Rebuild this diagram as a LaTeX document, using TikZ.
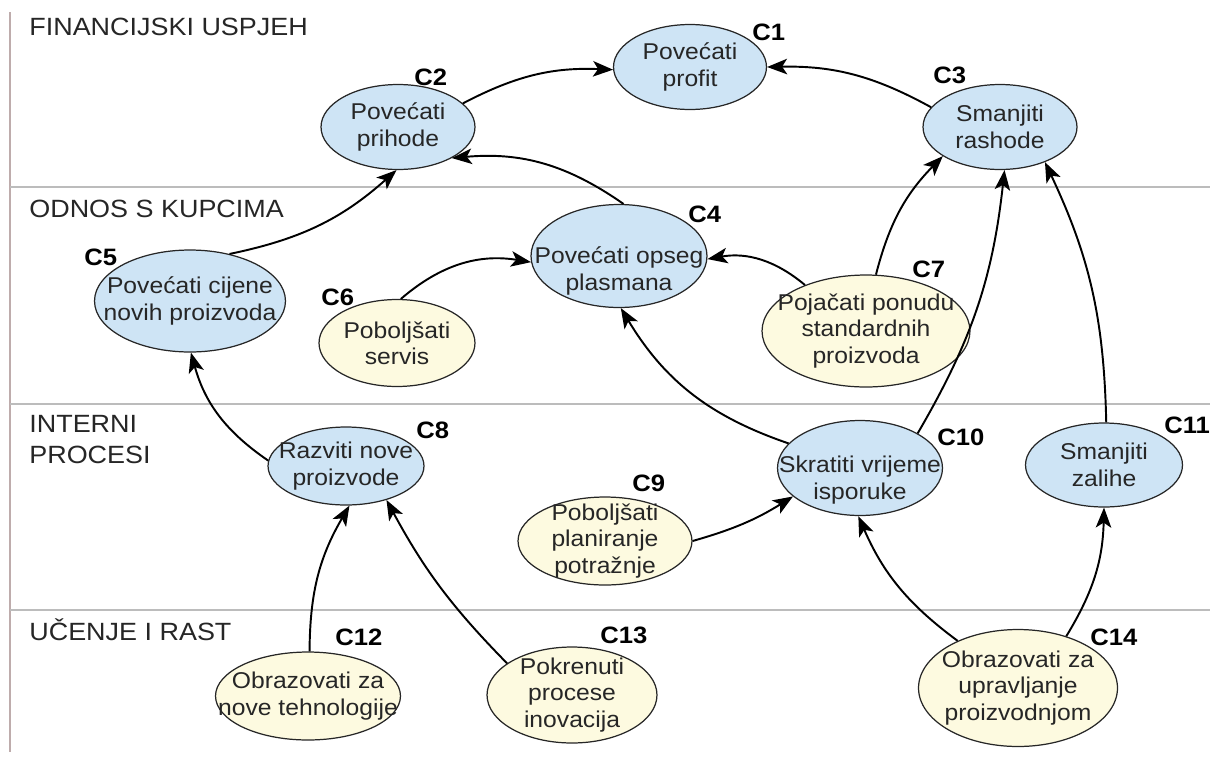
\documentclass[tikz,border=0pt]{standalone}
\usepackage{fontspec}
\setmainfont[FakeStretch=1.08]{Liberation Sans}
\usetikzlibrary{arrows.meta,shapes.geometric}
\definecolor{goalblue}{RGB}{206,228,245}
\definecolor{goalcream}{RGB}{253,250,224}
\definecolor{lanegray}{RGB}{188,188,188}
\definecolor{framegray}{RGB}{190,172,172}
\definecolor{inkgray}{RGB}{38,38,38}
\tikzset{goal/.style={
    % The shape:
    ellipse,
    inner sep=0pt,
    % The border:
    line width=0.7pt,
    draw=inkgray,
    },
    goaltext/.style={
    % Font
    font=\fontsize{13}{15}\selectfont,
    align=center,
    inner sep=0pt,
    text=inkgray,
    },
    outcome/.style={
    goal,
    fill=goalblue,
    },
    driver/.style={
    goal,
    fill=goalcream,
    },
    goalid/.style={
    font=\fontsize{13.5}{15}\selectfont\bfseries,
    inner sep=0pt,
    anchor=base west,
    },
    lanename/.style={
    font=\fontsize{14.2}{17.5}\selectfont,
    text=inkgray,
    inner sep=0pt,
    align=left,
    },
    link/.style={
    -{Stealth[length=4mm,width=3.1mm,inset=1mm]},
    line width=1.1pt,
    draw=black,
    },
}

\begin{document}
\begin{tikzpicture}[x=0.02cm,y=-0.02cm]
    \useasboundingbox (0,0) rectangle (1210,758);

    % lanes
    \draw[framegray,line width=1pt] (10,12) -- (10,752);
    \draw[lanegray,line width=1pt] (10,187) -- (1210,187);
    \draw[lanegray,line width=1pt] (10,404) -- (1210,404);
    \draw[lanegray,line width=1pt] (10,610) -- (1210,610);

    \node (finlane)  [lanename,anchor=base west]  at (29,35)  {FINANCIJSKI USPJEH};
    \node (kuplane)  [lanename,anchor=base west]  at (29,217) {ODNOS S KUPCIMA};
    \node (intlane)  [lanename,anchor=north west] at (29,415) {INTERNI\\PROCESI};
    \node (uclane)   [lanename,anchor=base west]  at (29,640) {UČENJE I RAST};

    % goals
    \node (c1)  [outcome,minimum width=3.06cm,minimum height=1.70cm,
                 label={[goaltext]center:Povećati\\profit}] at (690,67) {};
    \node (c2)  [outcome,minimum width=3.08cm,minimum height=1.70cm,
                 label={[goaltext]center:Povećati\\prihode}] at (398,127) {};
    \node (c3)  [outcome,minimum width=3.08cm,minimum height=1.70cm,
                 label={[goaltext]center:Smanjiti\\rashode}] at (1000,127) {};
    \node (c4)  [outcome,minimum width=3.52cm,minimum height=2.06cm,
                 label={[goaltext,yshift=-0.3cm]center:Povećati opseg\\plasmana}] at (619,256) {};
    \node (c5)  [outcome,minimum width=3.82cm,minimum height=2.04cm,
                 label={[goaltext]center:Povećati cijene\\novih proizvoda}] at (190,301) {};
    \node (c6)  [driver,minimum width=3.12cm,minimum height=1.74cm,
                 label={[goaltext]center:Poboljšati\\servis}] at (397,343) {};
    \node (c7)  [driver,minimum width=4.16cm,minimum height=2.24cm,
                 label={[goaltext]center:Pojačati ponudu\\standardnih\\proizvoda}] at (866,331) {};
    \node (c8)  [outcome,minimum width=3.12cm,minimum height=1.56cm,
                 label={[goaltext]center:Razviti nove\\proizvode}] at (346,466) {};
    \node (c9)  [driver,minimum width=3.48cm,minimum height=1.76cm,
                 label={[goaltext]center:Poboljšati\\planiranje\\potražnje}] at (605,541) {};
    \node (c10) [outcome,minimum width=3.30cm,minimum height=1.90cm,
                 label={[goaltext,yshift=-0.24cm]center:Skratiti vrijeme\\isporuke}] at (860,468) {};
    \node (c11) [outcome,minimum width=3.14cm,minimum height=1.68cm,
                 label={[goaltext]center:Smanjiti\\zalihe}] at (1104,465) {};
    \node (c12) [driver,minimum width=3.70cm,minimum height=1.76cm,
                 label={[goaltext]center:Obrazovati za\\nove tehnologije}] at (308,696) {};
    \node (c13) [driver,minimum width=3.40cm,minimum height=1.92cm,
                 label={[goaltext]center:Pokrenuti\\procese\\inovacija}] at (572,695) {};
    \node (c14) [driver,minimum width=3.98cm,minimum height=2.34cm,
                 label={[goaltext]center:Obrazovati za\\upravljanje\\proizvodnjom}] at (1018,688) {};

    % goal ids
    \node (id1)  [goalid] at (752,40)  {C1};
    \node (id2)  [goalid] at (414,85)  {C2};
    \node (id3)  [goalid] at (933,83)  {C3};
    \node (id4)  [goalid] at (688,222) {C4};
    \node (id5)  [goalid] at (84,265)  {C5};
    \node (id6)  [goalid] at (321,305) {C6};
    \node (id7)  [goalid] at (912,277) {C7};
    \node (id8)  [goalid] at (416,438) {C8};
    \node (id9)  [goalid] at (632,491) {C9};
    \node (id10) [goalid] at (937,445) {C10};
    \node (id11) [goalid] at (1164,433) {C11};
    \node (id12) [goalid] at (335,645) {C12};
    \node (id13) [goalid] at (600,643) {C13};
    \node (id14) [goalid] at (1090,645) {C14};

    % cause and effect
    \path (c2.20)   edge[link,bend left=15]  (c1.182);
    \path (c3.164)  edge[link,bend right=15] (c1.east);
    \path (c5.50)   edge[link,bend right=15] (c2.268);
    \path (c4.85)   edge[link,bend right=20] (c2.330);
    \path (c6.85)   edge[link,bend left=25]  (c4.184);
    \path (c7.143)  edge[link,bend right=25] (c4.358);
    \path (c7.80)   edge[link,bend left=15]  (c3.207);
    \path (c10.31)  edge[link,bend right=12] (c3.276);
    \path (c11.87)  edge[link,bend right=12] (c3.322);
    \path (c10.161) edge[link,bend left=20]  (c4.272);
    \path (c8.176)  edge[link,bend left=20]  (c5.271);
    \path (c9.east) edge[link,bend right=8]  (c10.203);
    \path (c12.88)  edge[link,bend left=15]  (c8.275);
    \path (c13.154) edge[link,bend left=8]   (c8.320);
    \path (c14.142) edge[link,bend left=15]  (c10.268);
    \path (c14.47)  edge[link,bend right=15] (c11.south);
\end{tikzpicture}
\end{document}
